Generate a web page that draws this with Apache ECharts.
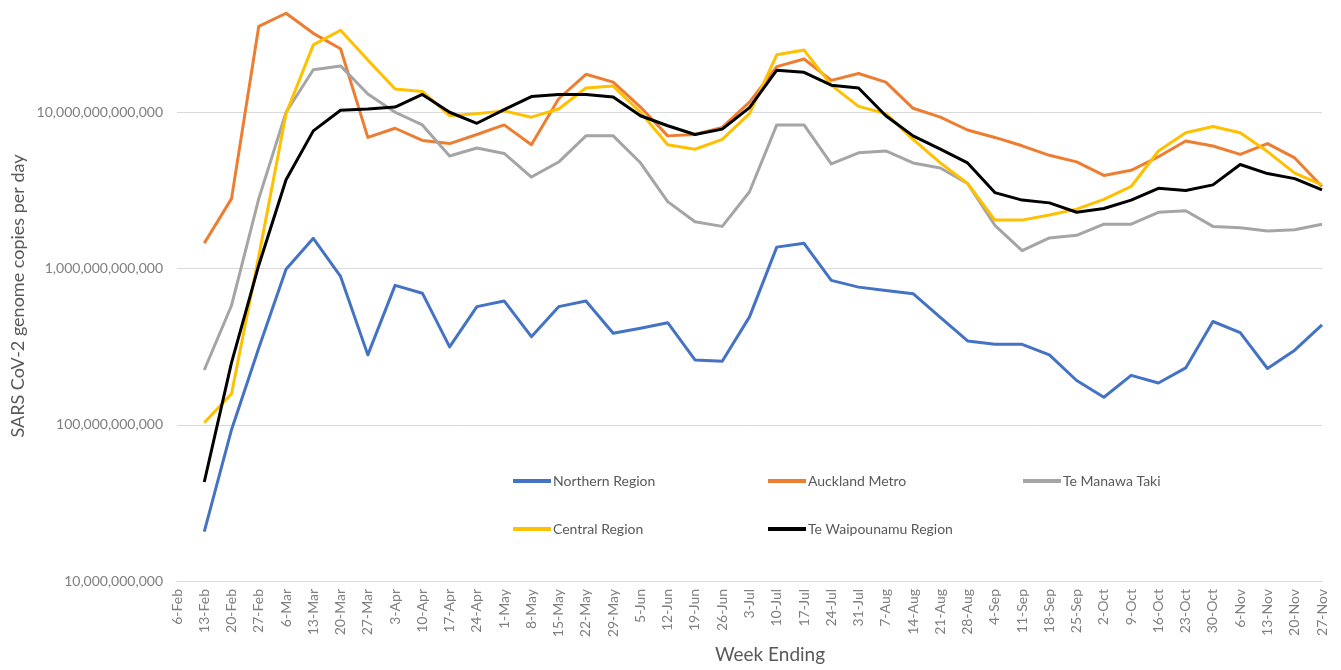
<!DOCTYPE html>
<html lang="en">
<head>
<meta charset="UTF-8">
<title>SARS CoV-2 genome copies per day</title>
<script src="https://cdn.jsdelivr.net/npm/echarts@6/dist/echarts.min.js"></script>
<style>
  body { margin: 0; background: #fff; overflow: hidden; }
  #chart { width: 1341px; height: 670px; }
</style>
</head>
<body>
<div id="chart"></div>
<script>
// Week ending dates (x categories)
const weeks = [
  '6-Feb', '13-Feb', '20-Feb', '27-Feb', '6-Mar', '13-Mar', '20-Mar', '27-Mar',
  '3-Apr', '10-Apr', '17-Apr', '24-Apr', '1-May', '8-May', '15-May', '22-May', '29-May',
  '5-Jun', '12-Jun', '19-Jun', '26-Jun', '3-Jul', '10-Jul', '17-Jul', '24-Jul', '31-Jul',
  '7-Aug', '14-Aug', '21-Aug', '28-Aug', '4-Sep', '11-Sep', '18-Sep', '25-Sep',
  '2-Oct', '9-Oct', '16-Oct', '23-Oct', '30-Oct', '6-Nov', '13-Nov', '20-Nov', '27-Nov'
]

// Genome copies per day, one value per week (no sample for 6-Feb)
const northern = [null, 2.07e10, 9.3e10, 3.1e11, 9.9e11, 1.56e12, 8.9e11, 2.8e11,
  7.8e11, 6.95e11, 3.15e11, 5.7e11, 6.2e11, 3.66e11, 5.7e11, 6.2e11, 3.85e11,
  4.15e11, 4.5e11, 2.6e11, 2.55e11, 4.9e11, 1.37e12, 1.45e12, 8.4e11, 7.6e11,
  7.24e11, 6.9e11, 4.87e11, 3.44e11, 3.27e11, 3.27e11, 2.8e11, 1.92e11,
  1.5e11, 2.07e11, 1.85e11, 2.31e11, 4.58e11, 3.89e11, 2.29e11, 3.0e11, 4.36e11]

const auckland = [null, 1.45e12, 2.8e12, 3.55e13, 4.3e13, 3.2e13, 2.55e13, 6.9e12,
  7.9e12, 6.6e12, 6.3e12, 7.2e12, 8.3e12, 6.2e12, 1.22e13, 1.75e13, 1.56e13,
  1.08e13, 7.06e12, 7.2e12, 8.0e12, 1.16e13, 1.96e13, 2.19e13, 1.6e13, 1.77e13,
  1.56e13, 1.06e13, 9.3e12, 7.7e12, 6.9e12, 6.1e12, 5.3e12, 4.81e12,
  3.94e12, 4.25e12, 5.19e12, 6.55e12, 6.08e12, 5.37e12, 6.3e12, 5.1e12, 3.35e12]

const manawaTaki = [null, 2.24e11, 5.8e11, 2.8e12, 1.0e13, 1.87e13, 1.98e13, 1.31e13,
  1.0e13, 8.3e12, 5.25e12, 5.9e12, 5.45e12, 3.85e12, 4.8e12, 7.06e12, 7.06e12,
  4.75e12, 2.68e12, 1.99e12, 1.86e12, 3.1e12, 8.3e12, 8.3e12, 4.67e12, 5.5e12,
  5.65e12, 4.74e12, 4.4e12, 3.5e12, 1.89e12, 1.3e12, 1.57e12, 1.63e12,
  1.92e12, 1.92e12, 2.29e12, 2.34e12, 1.86e12, 1.82e12, 1.74e12, 1.77e12, 1.92e12]

const central = [null, 1.03e11, 1.58e11, 1.2e12, 9.8e12, 2.7e13, 3.35e13, 2.16e13,
  1.41e13, 1.36e13, 9.5e12, 9.8e12, 1.02e13, 9.3e12, 1.05e13, 1.43e13, 1.47e13,
  1.0e13, 6.2e12, 5.8e12, 6.7e12, 9.8e12, 2.33e13, 2.5e13, 1.49e13, 1.09e13,
  9.8e12, 6.7e12, 4.74e12, 3.5e12, 2.04e12, 2.04e12, 2.2e12, 2.4e12,
  2.77e12, 3.35e12, 5.65e12, 7.4e12, 8.1e12, 7.4e12, 5.6e12, 4.08e12, 3.43e12]

const waipounamu = [null, 4.3e10, 2.5e11, 1.05e12, 3.7e12, 7.6e12, 1.03e13, 1.05e13,
  1.08e13, 1.3e13, 1.0e13, 8.5e12, 1.04e13, 1.26e13, 1.3e13, 1.3e13, 1.25e13,
  9.5e12, 8.2e12, 7.2e12, 7.8e12, 1.07e13, 1.86e13, 1.8e13, 1.49e13, 1.43e13,
  9.5e12, 7.06e12, 5.8e12, 4.74e12, 3.06e12, 2.74e12, 2.63e12, 2.29e12,
  2.42e12, 2.74e12, 3.26e12, 3.16e12, 3.43e12, 4.63e12, 4.05e12, 3.76e12, 3.19e12]

const SERIES = [
  { name: 'Northern Region', data: northern, color: '#4472c4' },
  { name: 'Auckland Metro', data: auckland, color: '#ed7d31' },
  { name: 'Te Manawa Taki', data: manawaTaki, color: '#a5a5a5' },
  { name: 'Central Region', data: central, color: '#ffc000' },
  { name: 'Te Waipounamu Region', data: waipounamu, color: '#000000' }
]

// legend slots (two rows inside the plot)
const LEGEND_POS = [[513, 474], [768, 474], [1023, 474], [513, 522], [768, 522]]

const FONT = 'Lato, "Liberation Sans", sans-serif'
const chart = echarts.init(document.getElementById('chart'))

chart.setOption({
  animation: false,
  textStyle: { fontFamily: FONT },
  // top is negative on purpose: the 1e14 line sits above the picture
  grid: { left: 177, right: 19, top: -44, bottom: 89, containLabel: false, outerBoundsMode: 'none' },
  legend: SERIES.map((s, i) => ({
    data: [s.name],
    left: LEGEND_POS[i][0],
    top: LEGEND_POS[i][1],
    padding: 0,
    icon: 'rect',
    itemWidth: 38,
    itemHeight: 4,
    textStyle: { color: '#595959', fontSize: 14, fontFamily: FONT, padding: [0, 0, 0, -3] }
  })),
  xAxis: {
    type: 'category',
    data: weeks,
    boundaryGap: false,
    axisTick: { show: false },
    axisLine: { lineStyle: { color: '#d9d9d9' } },
    axisLabel: { rotate: 90, interval: 0, margin: 8, color: '#7f7f7f', fontSize: 14, fontFamily: FONT }
  },
  yAxis: {
    type: 'log',
    logBase: 10,
    min: 1e10,
    max: 1e14,
    axisLine: { show: false },
    axisTick: { show: false },
    splitLine: { lineStyle: { color: '#d9d9d9', width: 1 } },
    axisLabel: {
      margin: 14,
      color: '#7f7f7f',
      fontSize: 14,
      fontFamily: FONT,
      formatter: v => Math.round(v).toLocaleString('en-US')
    }
  },
  graphic: [
    {
      type: 'text',
      x: 18, y: 296,
      rotation: Math.PI / 2,
      style: {
        text: 'SARS CoV-2 genome copies per day',
        fill: '#595959', font: '18px ' + FONT,
        align: 'center', verticalAlign: 'middle'
      }
    },
    {
      type: 'text',
      x: 770, y: 655,
      style: {
        text: 'Week Ending',
        fill: '#595959', font: '19px ' + FONT,
        align: 'center', verticalAlign: 'middle'
      }
    }
  ],
  series: SERIES.map(s => ({
    name: s.name,
    type: 'line',
    data: s.data,
    symbol: 'none',
    connectNulls: false,
    lineStyle: { color: s.color, width: 3, join: 'round' },
    itemStyle: { color: s.color }
  }))
})
</script>
</body>
</html>
